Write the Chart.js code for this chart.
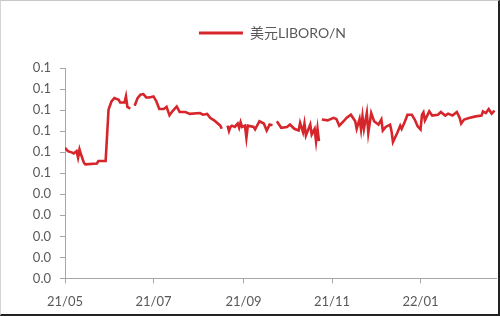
<!DOCTYPE html>
<html>
<head>
<meta charset="utf-8">
<script src="https://cdn.jsdelivr.net/npm/chart.js@4.4.1/dist/chart.umd.min.js"></script>
<style>
html,body{margin:0;padding:0;background:#fff;}
#wrap{position:absolute;left:0;top:0;width:500px;height:316px;box-sizing:border-box;
 border-top:1px solid #c8c8c8;border-left:1px solid #d4d4d4;border-right:2px solid #222;border-bottom:2px solid #222;}
canvas{position:absolute;left:0;top:0;}
</style>
</head>
<body>
<div id="wrap"></div>
<canvas id="c" width="500" height="316" style="width:500px;height:316px"></canvas>
<script>
const seriesName = '美元LIBORO/N';
const dates = [
'2021-05-01','2021-05-03','2021-05-06','2021-05-07','2021-05-09','2021-05-10','2021-05-11','2021-05-12','2021-05-14','2021-05-15',
'2021-05-23','2021-05-24','2021-05-29','2021-05-31','2021-06-02','2021-06-04','2021-06-07','2021-06-08','2021-06-11','2021-06-12',
'2021-06-13','2021-06-15','2021-06-16','2021-06-18','2021-06-20','2021-06-22','2021-06-24','2021-06-26','2021-06-28','2021-07-01',
'2021-07-03','2021-07-05','2021-07-08','2021-07-10','2021-07-12','2021-07-14','2021-07-17','2021-07-19','2021-07-23','2021-07-26',
'2021-08-02','2021-08-04','2021-08-07','2021-08-09','2021-08-12','2021-08-16','2021-08-17','2021-08-19','2021-08-21','2021-08-22',
'2021-08-23','2021-08-24','2021-08-26','2021-08-28','2021-08-29','2021-08-30','2021-08-31','2021-09-02','2021-09-03','2021-09-04',
'2021-09-08','2021-09-09','2021-09-12','2021-09-15','2021-09-17','2021-09-19','2021-09-21','2021-09-23','2021-09-24','2021-09-27',
'2021-10-01','2021-10-03','2021-10-06','2021-10-09','2021-10-10','2021-10-12','2021-10-13','2021-10-14','2021-10-17','2021-10-18',
'2021-10-20','2021-10-21','2021-10-22','2021-10-23','2021-10-24','2021-10-25','2021-10-29','2021-11-02','2021-11-04','2021-11-06',
'2021-11-09','2021-11-11','2021-11-14','2021-11-17','2021-11-18','2021-11-20','2021-11-21','2021-11-22','2021-11-23','2021-11-25',
'2021-11-26','2021-11-28','2021-11-30','2021-12-03','2021-12-05','2021-12-06','2021-12-08','2021-12-11','2021-12-12','2021-12-13',
'2021-12-16','2021-12-18','2021-12-19','2021-12-21','2021-12-23','2021-12-26','2021-12-28','2021-12-30','2022-01-01','2022-01-02',
'2022-01-03','2022-01-04','2022-01-07','2022-01-09','2022-01-13','2022-01-15','2022-01-18','2022-01-20','2022-01-23','2022-01-26',
'2022-01-28','2022-01-29','2022-01-31','2022-02-04','2022-02-08','2022-02-12','2022-02-13','2022-02-15','2022-02-17','2022-02-19',
'2022-02-21'
];
const values = [
0.0621,0.0605,0.0598,0.0594,0.0605,0.0574,0.0613,0.0590,0.0550,0.0542,
0.0546,0.0558,0.0558,0.0802,0.0841,0.0857,0.0849,0.0836,0.0836,0.0865,
0.0815,0.0807,null,0.0821,0.0857,0.0873,0.0876,0.0860,0.0860,0.0865,
0.0841,0.0805,0.0805,0.0815,0.0775,0.0794,0.0817,0.0791,0.0791,0.0782,
0.0786,0.0778,0.0782,0.0763,0.0750,0.0726,0.0711,null,0.0726,0.0700,
0.0720,0.0726,0.0720,0.0736,0.0716,0.0742,0.0720,0.0726,0.0668,0.0726,
0.0720,0.0708,0.0747,0.0736,0.0703,0.0731,0.0728,null,0.0747,0.0716,
0.0720,0.0731,0.0711,0.0703,0.0739,0.0695,0.0736,0.0679,0.0731,0.0684,
0.0711,0.0652,0.0711,0.0652,null,0.0755,0.0751,0.0763,0.0758,0.0726,
0.0747,0.0763,0.0778,0.0747,0.0711,0.0758,0.0708,0.0770,0.0711,0.0786,
0.0692,0.0786,0.0747,0.0731,0.0755,0.0703,0.0720,0.0731,0.0700,0.0648,
0.0692,0.0726,0.0711,0.0742,0.0778,0.0778,0.0755,0.0723,0.0708,0.0778,
0.0789,0.0751,0.0794,0.0774,0.0778,0.0791,0.0774,0.0783,0.0774,0.0791,
0.0763,0.0736,0.0755,0.0763,0.0770,0.0774,0.0794,0.0786,0.0805,0.0783,
0.0797
];
const xTickDates = ['2021-05-01','2021-07-01','2021-09-01','2021-11-01','2022-01-01'];
const xTickLabels = ['21/05','21/07','21/09','21/11','22/01'];
const xStartDate = '2021-05-01';
const xEndDate = '2022-02-22';

const dayOf = s => { const p = s.split('-').map(Number); return Math.round((Date.UTC(p[0],p[1]-1,p[2]) - Date.UTC(2021,4,1))/86400000); };
const points = dates.map((d,i)=>({x: dayOf(d), y: values[i]}));
const tickDays = xTickDates.map(dayOf);

const FONT = "Lato, 'Noto Sans CJK SC', sans-serif";
const axisColor = '#a6a6a6';
const red = '#d6262b';

const legendShift = {
  id: 'legendShift',
  beforeDraw(chart) {
    const lg = chart.legend;
    if (lg && !lg._shifted) { lg.left -= 8; lg.right -= 8; lg._shifted = true; }
  }
};

new Chart(document.getElementById('c'), {
  type: 'line',
  data: { datasets: [{
    label: seriesName, data: points,
    borderColor: red, backgroundColor: red, borderWidth: 2.6,
    pointRadius: 0, tension: 0, spanGaps: false
  }]},
  options: {
    responsive: false, animation: false, devicePixelRatio: 1,
    layout: { padding: { left: 0, right: 4, top: 16, bottom: -5 } },
    plugins: {
      tooltip: { enabled: false },
      legend: {
        position: 'top', fullSize: false, weight: 1000,
        labels: {
          boxWidth: 44, boxHeight: 3, font: { family: FONT, size: 14 }, color: '#595959', padding: 10,
          generateLabels: chart => Chart.defaults.plugins.legend.labels.generateLabels(chart).map(l => Object.assign(l, { lineWidth: 0, fillStyle: red }))
        }
      },
      title: {
        display: true, text: ' ', position: 'top', fullSize: false, weight: 500,
        font: { size: 1, lineHeight: 1 }, padding: { top: 0, bottom: 17 }
      }
    },
    scales: {
      x: {
        type: 'linear', min: dayOf(xStartDate), max: dayOf(xEndDate),
        afterBuildTicks: s => { s.ticks = tickDays.map(v=>({value:v})); },
        ticks: { autoSkip: false, maxRotation: 0, padding: 11, color: '#595959', font: { family: FONT, size: 13 },
          callback: v => { const i = tickDays.indexOf(v); return i >= 0 ? xTickLabels[i] : ''; } },
        grid: { display: true, drawOnChartArea: false, drawTicks: true, tickLength: 5, color: axisColor },
        border: { display: true, color: axisColor, width: 1 }
      },
      y: {
        min: 0, max: 0.1,
        afterFit: s => { s.width = 65; },
        ticks: { stepSize: 0.01, padding: 9, color: '#595959', font: { family: FONT, size: 13 },
          callback: v => (Math.round(Math.round(v*100)/10)/10).toFixed(1) },
        grid: { display: true, drawOnChartArea: false, drawTicks: true, tickLength: 5, color: axisColor },
        border: { display: true, color: axisColor, width: 1 }
      }
    }
  },
  plugins: [legendShift]
});
</script>
</body>
</html>
